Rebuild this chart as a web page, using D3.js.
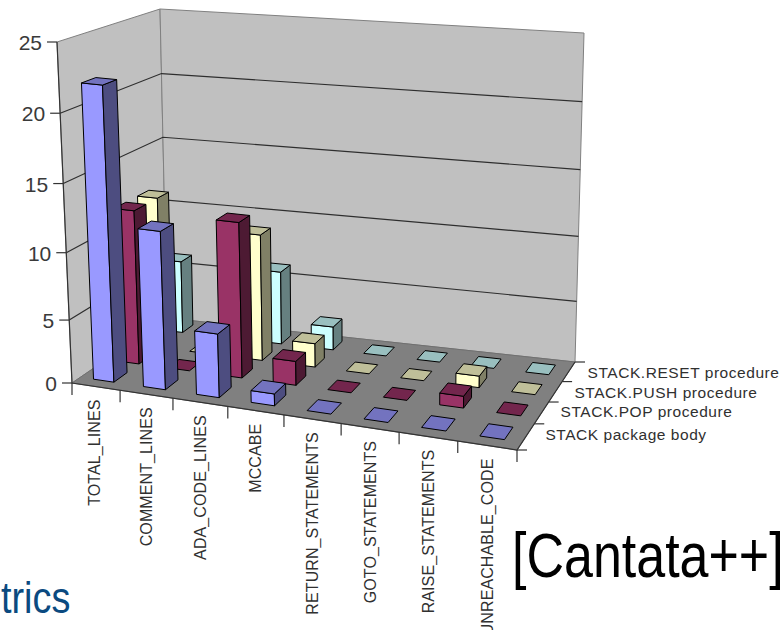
<!DOCTYPE html>
<html>
<head>
<meta charset="utf-8">
<style>
html,body{margin:0;padding:0;background:#fff;}
svg{display:block;}
text{font-family:"Liberation Sans",Arial,sans-serif;}
</style>
<script src="https://cdn.jsdelivr.net/npm/d3@7/dist/d3.min.js"></script>
</head>
<body>
<svg id="chart" width="784" height="630"></svg>
<script>
// Metrics per code unit, shown as a 3D clustered column chart
const categories = ["TOTAL_LINES","COMMENT_LINES","ADA_CODE_LINES","MCCABE","RETURN_STATEMENTS","GOTO_STATEMENTS","RAISE_STATEMENTS","UNREACHABLE_CODE"];
const seriesNames = ["STACK package body","STACK.POP procedure","STACK.PUSH procedure","STACK.RESET procedure"];
const packageBody = [22,12,5,1,0,0,0,0];
const popProcedure = [12,0,12,2,0,0,1,0];
const pushProcedure = [12,0,10,2,0,0,1,0];
const resetProcedure = [6,0,6,2,0,0,0,0];
const allSeries = [packageBody,popProcedure,pushProcedure,resetProcedure];
const valueTicks = [0,5,10,15,20,25];
const frontColors = ["#9999ff","#993366","#ffffcc","#ccffff"];

const svg = d3.select("#chart");

// Corners of the plot box on screen: [across, depth, height]
const box = {
  "000":[72,383], "001":[57,42],
  "010":[167,318],"011":[160,9],
  "100":[517,450],"101":[519,88],
  "110":[575,362],"111":[584,33]
};
const mix = (a,b,t)=>[a[0]+(b[0]-a[0])*t,a[1]+(b[1]-a[1])*t];
function project(u,v,w){
  const c=(i,j,k)=>box[""+i+j+k];
  const a=mix(mix(c(0,0,0),c(1,0,0),u),mix(c(0,1,0),c(1,1,0),u),v);
  const b=mix(mix(c(0,0,1),c(1,0,1),u),mix(c(0,1,1),c(1,1,1),u),v);
  return mix(a,b,w);
}

// Foreshortened scales along the three axes
const across = d3.scalePow().exponent(1.07).domain([0,1]).range([0,1]);
const depth = d3.scalePow().exponent(0.875).domain([0,1]).range([0,1]);
const height = d3.scalePow().exponent(1.05).domain([0,25]).range([0,1]);
const catBand = d3.scaleBand().domain(categories).range([0,1]).paddingInner(0.58).paddingOuter(0.3);
const catStep = d3.scaleBand().domain(categories).range([0,1]);
const serBand = d3.scaleBand().domain(seriesNames).range([0,1]).paddingInner(0.5).paddingOuter(0.25);
const serStep = d3.scaleBand().domain(seriesNames).range([0,1]);
const line = d3.line();

// Walls and floor
const poly = (pts,fill,stroke,sw)=>svg.append("path").attr("d",line(pts)+"Z")
  .attr("fill",fill).attr("stroke",stroke||"none").attr("stroke-width",sw||1).attr("stroke-linejoin","round");
poly([project(0,0,0),project(0,0,1),project(0,1,1),project(0,1,0)],"#c0c0c0","#808080");
poly([project(0,1,0),project(0,1,1),project(1,1,1),project(1,1,0)],"#c0c0c0","#808080");
poly([project(0,0,0),project(1,0,0),project(1,1,0),project(0,1,0)],"#808080","#707070");

// Gridlines on both walls
valueTicks.filter(d=>d>0&&d<25).forEach(d=>{
  const h=height(d);
  svg.append("path").attr("d",line([project(0,0,h),project(0,1,h),project(1,1,h)]))
    .attr("fill","none").attr("stroke","#2e2e2e").attr("stroke-width",1.2);
});

// Axis edges
svg.append("path").attr("d",line([project(0,0,1),project(0,0,0),project(1,0,0),project(1,1,0)]))
  .attr("fill","none").attr("stroke","#333").attr("stroke-width",1.2);

// Value axis ticks and labels
valueTicks.forEach(d=>{
  const p=project(0,0,height(d));
  svg.append("line").attr("x1",p[0]-10).attr("x2",p[0]).attr("y1",p[1]).attr("y2",p[1])
    .attr("stroke","#333").attr("stroke-width",1.2);
  svg.append("text").attr("x",p[0]-15).attr("y",p[1]+8).attr("text-anchor","end")
    .attr("font-size",21).attr("fill","#3a3a3a").text(d);
});

// Category axis ticks and labels
d3.range(categories.length+1).forEach(i=>{
  const p=project(across(i/categories.length),0,0);
  svg.append("line").attr("x1",p[0]).attr("x2",p[0]).attr("y1",p[1]).attr("y2",p[1]+12)
    .attr("stroke","#333").attr("stroke-width",1.2);
});
categories.forEach(c=>{
  const p=project(across(catStep(c)+catStep.bandwidth()/2),0,0);
  svg.append("text").attr("transform",`translate(${p[0]+5.5},${p[1]+13}) rotate(-90)`)
    .attr("text-anchor","end").attr("font-size",16).attr("letter-spacing",0.1).attr("fill","#303030").text(c);
});

// Depth axis ticks and labels
d3.range(seriesNames.length+1).forEach(i=>{
  const p=project(1,depth(i/seriesNames.length),0);
  svg.append("line").attr("x1",p[0]).attr("x2",p[0]+10).attr("y1",p[1]).attr("y2",p[1])
    .attr("stroke","#333").attr("stroke-width",1.2);
});
seriesNames.forEach((s,i)=>{
  const p=project(1,depth(serStep(s)+serStep.bandwidth()/2),0);
  svg.append("text").attr("x",p[0]+19).attr("y",p[1]+6-(i<2?1.5:0))
    .attr("font-size",15.5).attr("letter-spacing",0.55).attr("fill","#303030").text(s);
});

// Columns, painted from the back row forward
function shade(color,k){const c=d3.rgb(color);return d3.rgb(c.r*k,c.g*k,c.b*k).formatHex();}
for(let si=seriesNames.length-1;si>=0;si--){
  const s=seriesNames[si];
  const v0=depth(serBand(s)), v1=depth(serBand(s)+serBand.bandwidth());
  categories.forEach((c,ci)=>{
    const u0=across(catBand(c)), u1=across(catBand(c)+catBand.bandwidth());
    const w=height(allSeries[si][ci]);
    const col=frontColors[si];
    const g=svg.append("g").attr("stroke","#000").attr("stroke-width",1).attr("stroke-linejoin","round");
    const face=(pts,fill)=>g.append("path").attr("d",line(pts)+"Z").attr("fill",fill);
    if(w>0){
      face([project(u0,v0,0),project(u1,v0,0),project(u1,v0,w),project(u0,v0,w)],col);
      face([project(u1,v0,0),project(u1,v1,0),project(u1,v1,w),project(u1,v0,w)],shade(col,0.5));
    }
    face([project(u0,v0,w),project(u1,v0,w),project(u1,v1,w),project(u0,v1,w)],shade(col,0.75));
  });
}

// Slide text around the chart, set in a narrowed face
svg.append("text").attr("transform","translate(1,613) scale(0.86,1)")
  .attr("font-size",44).attr("fill","#0b4a80").text("trics");
svg.append("text").attr("transform","translate(512,577) scale(0.825,1)")
  .attr("font-size",63).attr("fill","#000").text("[Cantata++]");
</script>
</body>
</html>
